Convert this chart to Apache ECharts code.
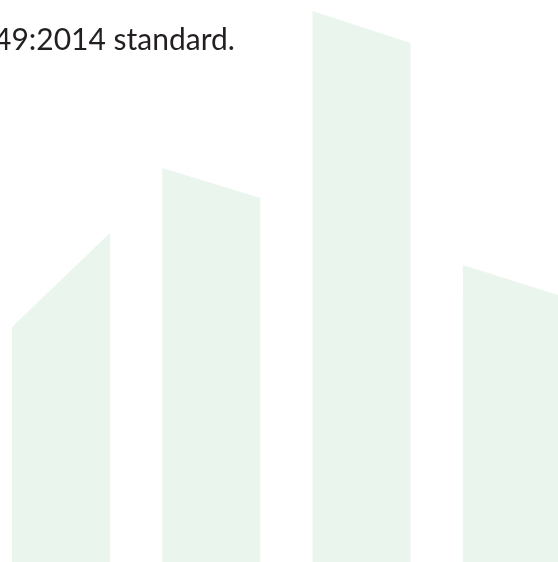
<!DOCTYPE html>
<html>
<head>
<meta charset="utf-8">
<style>
  html, body { margin: 0; padding: 0; background: #ffffff; }
  #chart { width: 558px; height: 562px; }
</style>
<script src="https://cdn.jsdelivr.net/npm/echarts@6/dist/echarts.min.js"></script>
</head>
<body>
<div id="chart"></div>
<script>
// Data
const categories = [0, 1, 2, 3];
const leftHeights = [235, 394, 551, 297];
const rightHeights = [329, 364, 519, 266];
const captionText = '49:2014 standard.';

const chart = echarts.init(document.getElementById('chart'), null, { renderer: 'canvas' });

const seriesData = categories.map((c, i) => [c, leftHeights[i], rightHeights[i]]);

const option = {
  animation: false,
  backgroundColor: '#ffffff',
  grid: { left: 0, right: 0, top: 0, bottom: 0, containLabel: false },
  xAxis: {
    type: 'value',
    min: -0.406,
    max: 3.307,
    show: false
  },
  yAxis: {
    type: 'value',
    min: 0,
    max: 562,
    show: false
  },
  graphic: [
    {
      type: 'text',
      left: -6,
      top: 25,
      style: {
        text: captionText,
        font: '30px Lato',
        fill: '#231f20'
      },
      z: 10
    }
  ],
  series: [
    {
      type: 'custom',
      data: seriesData,
      encode: { x: 0, y: [1, 2] },
      renderItem: function (params, api) {
        const idx = api.value(0);
        const band = api.size([1, 0])[0];
        const w = band * 0.652;
        const base = api.coord([idx, 0]);
        const pl = api.coord([idx, api.value(1)]);
        const pr = api.coord([idx, api.value(2)]);
        const xl = base[0] - w / 2;
        const xr = base[0] + w / 2;
        return {
          type: 'polygon',
          shape: {
            points: [[xl, base[1]], [xl, pl[1]], [xr, pr[1]], [xr, base[1]]]
          },
          style: { fill: '#eaf5ed' }
        };
      }
    }
  ]
};

chart.setOption(option);
</script>
</body>
</html>
